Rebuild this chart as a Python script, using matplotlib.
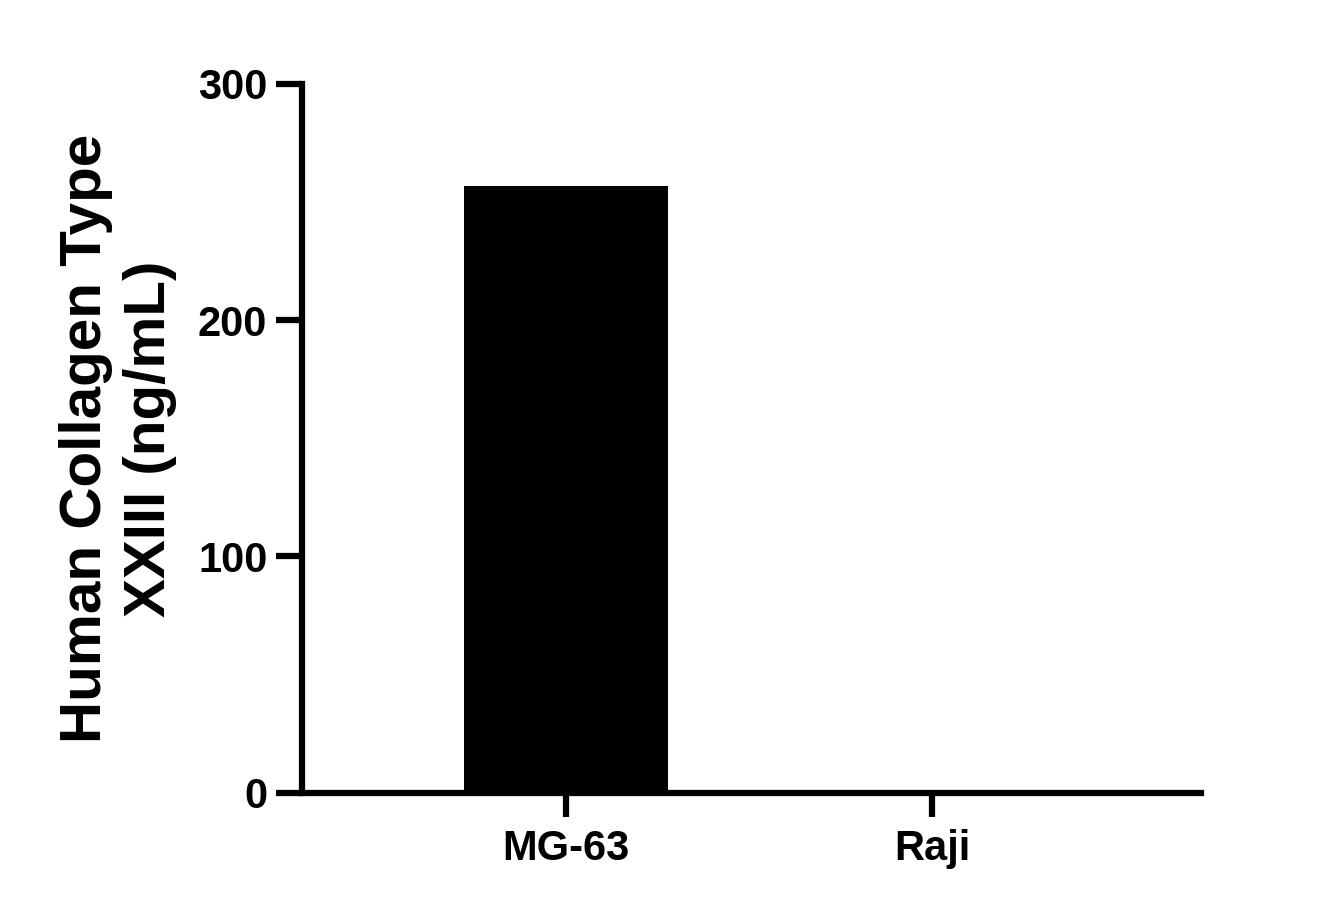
import matplotlib.pyplot as plt
import numpy as np

categories = ["MG-63", "Raji"]
values = [257, 0]
y_ticks = [0, 100, 200, 300]

plt.rcParams['font.family'] = ['Liberation Sans', 'DejaVu Sans']
plt.rcParams['font.weight'] = 'bold'

fig = plt.figure(figsize=(13.37, 9.09), dpi=100)
ax = fig.add_axes([0.2259, 0.1279, 0.6724, 0.7797])

x = np.arange(len(categories))
ax.bar(x, values, width=0.557, color="black", edgecolor="black", linewidth=0)

ax.set_xlim(-0.721, 1.735)
ax.set_ylim(0, 300)
ax.set_xticks(x)
ax.set_xticklabels(categories)
ax.set_yticks(y_ticks)

for side in ["top", "right"]:
    ax.spines[side].set_visible(False)
for side in ["left", "bottom"]:
    ax.spines[side].set_linewidth(4.5)
    ax.spines[side].set_capstyle("projecting")

ax.tick_params(axis="y", length=19, width=4.5, pad=6, labelsize=30)
ax.tick_params(axis="x", length=17, width=4.5, pad=9, labelsize=30)
for lab in ax.get_xticklabels() + ax.get_yticklabels():
    lab.set_fontweight("bold")

ax.set_ylabel("Human Collagen Type\nXXIII (ng/mL)", fontsize=42, fontweight="bold", linespacing=1.25)
ax.yaxis.set_label_coords(-0.139, 0.5)

fig.savefig("out.png", dpi=100)
